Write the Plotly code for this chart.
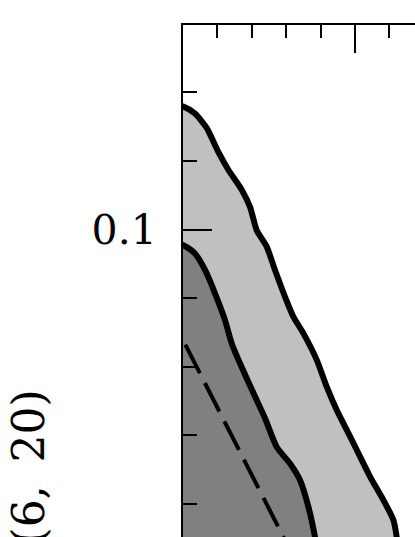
import plotly.graph_objects as go

# Outer (light) contour boundary
outer_x = [-0.378, 0.01, 0.349, 0.689, 1.026, 1.317, 1.706, 1.948, 2.142, 2.433, 2.674, 2.965,
           3.206, 3.497, 3.887, 4.177, 4.468, 4.759, 5.049, 5.436, 5.823, 6.113, 6.212, 6.25]
outer_y = [0.1183, 0.1179, 0.1169, 0.1148, 0.1113, 0.1087, 0.1058, 0.1033, 0.0999, 0.0975, 0.0941, 0.0902,
           0.0873, 0.0849, 0.0810, 0.0771, 0.0737, 0.0708, 0.0679, 0.0640, 0.0606, 0.0577, 0.0552, 0.0533]

# Inner (dark) contour boundary
inner_x = [-0.32, 0.01, 0.349, 0.640, 0.930, 1.221, 1.416, 1.657, 2.044, 2.384, 2.724, 3.110,
           3.401, 3.634, 3.837, 3.895]
inner_y = [0.0983, 0.0977, 0.0965, 0.0941, 0.0907, 0.0868, 0.0834, 0.0805, 0.0762, 0.0725, 0.0683, 0.0659,
           0.0635, 0.0598, 0.0552, 0.0533]

# Dashed reference line
dash_x = [-0.5, 3.1]
dash_y = [0.0888, 0.0534]

y_tick_vals = [0.1]
y_tick_text = ["0.1"]
y_title = "(6,\u2009 20)"

X_RANGE = [0, 6.744]
Y_RANGE = [0.05519, 0.1298]
LEFT_X = -1.5
BOTTOM_Y = 0.045
FONT = "DejaVu Serif"

fig = go.Figure()

fig.add_trace(go.Scatter(
    x=[LEFT_X] + outer_x + [outer_x[-1], LEFT_X],
    y=[outer_y[0]] + outer_y + [BOTTOM_Y, BOTTOM_Y],
    mode="lines", fill="toself", fillcolor="#c0c0c0",
    line=dict(color="black", width=6, shape="spline", smoothing=0.6),
    hoverinfo="skip", showlegend=False))

fig.add_trace(go.Scatter(
    x=[LEFT_X] + inner_x + [inner_x[-1], LEFT_X],
    y=[inner_y[0]] + inner_y + [BOTTOM_Y, BOTTOM_Y],
    mode="lines", fill="toself", fillcolor="#808080",
    line=dict(color="black", width=6, shape="spline", smoothing=0.6),
    hoverinfo="skip", showlegend=False))

fig.add_trace(go.Scatter(
    x=dash_x, y=dash_y, mode="lines",
    line=dict(color="black", width=4, dash="32px,11px"),
    hoverinfo="skip", showlegend=False))

fig.update_layout(
    width=415, height=537,
    margin=dict(l=183, r=0, t=25, b=0, pad=0),
    paper_bgcolor="white", plot_bgcolor="white",
    font=dict(family=FONT, color="black"),
    xaxis=dict(range=X_RANGE, side="top", showgrid=False, zeroline=False,
               showline=True, linecolor="black", linewidth=2,
               ticks="inside", ticklen=28, tickwidth=2, tickcolor="black",
               tick0=0, dtick=5, showticklabels=False,
               minor=dict(ticks="inside", ticklen=13, tickwidth=2, tickcolor="black",
                          tick0=0, dtick=1)),
    yaxis=dict(range=Y_RANGE, showgrid=False, zeroline=False,
               showline=True, linecolor="black", linewidth=2,
               ticks="inside", ticklen=29, tickwidth=2, tickcolor="black",
               tickmode="array", tickvals=y_tick_vals, ticktext=y_tick_text,
               tickfont=dict(size=41, family=FONT),
               ticklabelstandoff=16,
               minor=dict(ticks="inside", ticklen=14, tickwidth=2, tickcolor="black",
                          tick0=0, dtick=0.01)),
    annotations=[dict(text=y_title, textangle=-90, xref="paper", yref="paper",
                      x=(28 - 183) / 232, y=1 - (388 - 25) / 512,
                      xanchor="center", yanchor="top", showarrow=False,
                      font=dict(size=44, family=FONT, color="black"))],
)

fig.write_html("out.html",
               config={"displayModeBar": False, "staticPlot": True},
               post_script="document.body.style.margin='0px';document.body.style.padding='0px';")
